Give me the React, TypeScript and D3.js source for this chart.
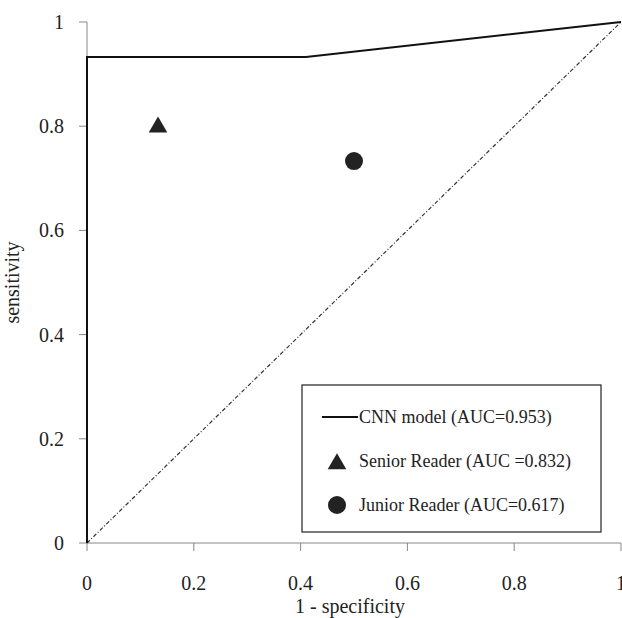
import React from 'react';
import {scaleLinear, line, symbol, symbolTriangle} from 'd3';

const rocX = [0, 0, 0.41, 1];
const rocY = [0, 0.933, 0.933, 1];
const seniorPt = {x: 0.133, y: 0.8};
const juniorPt = {x: 0.5, y: 0.733};
const xTicks = [0, 0.2, 0.4, 0.6, 0.8, 1];
const yTicks = [0, 0.2, 0.4, 0.6, 0.8, 1];
const legendLabels = ['CNN model (AUC=0.953)', 'Senior Reader (AUC =0.832)', 'Junior Reader (AUC=0.617)'];

const W = 622, H = 618;
const margin = {left: 87, right: 1, top: 22, bottom: 75};
const font = '"Liberation Serif", "Times New Roman", serif';

export default function App() {
  const xScale = scaleLinear().domain([0, 1]).range([margin.left, W - margin.right]);
  const yScale = scaleLinear().domain([0, 1]).range([H - margin.bottom, margin.top]);

  const roc = line<number>().x((d, i) => xScale(rocX[i])).y((d) => yScale(d));
  const diag = line<number>().x((d) => xScale(d)).y((d) => yScale(d));
  const tri = symbol().type(symbolTriangle).size(150)();

  const lx = 302, ly = 385, lw = 299, lh = 147;

  return (
    <svg width={W} height={H} style={{position: 'absolute', left: 0, top: 0, background: '#fff'}}>
      {/* axes */}
      <line x1={xScale(0)} x2={xScale(0)} y1={yScale(0)} y2={yScale(1)} stroke="#888" strokeWidth={1} />
      <line x1={xScale(0)} x2={xScale(1)} y1={yScale(0)} y2={yScale(0)} stroke="#888" strokeWidth={1} />
      {yTicks.map((t) => (
        <g key={'y' + t}>
          <line x1={xScale(0) - 8} x2={xScale(0)} y1={yScale(t)} y2={yScale(t)} stroke="#888" />
          <text x={xScale(0) - 23} y={yScale(t)} dy="0.35em" textAnchor="end" fontFamily={font} fontSize={20} fill="#222">{t}</text>
        </g>
      ))}
      {xTicks.map((t) => (
        <g key={'x' + t}>
          <line x1={xScale(t)} x2={xScale(t)} y1={yScale(0)} y2={yScale(0) + 8} stroke="#888" />
          <text x={xScale(t)} y={yScale(0) + 47} textAnchor="middle" fontFamily={font} fontSize={20} fill="#222">{t}</text>
        </g>
      ))}
      <text transform={`translate(19,${(yScale(0) + yScale(1)) / 2}) rotate(-90)`} textAnchor="middle" fontFamily={font} fontSize={20} fill="#222">sensitivity</text>
      <text x={(xScale(0) + xScale(1)) / 2 - 4} y={613} textAnchor="middle" fontFamily={font} fontSize={20} fill="#222">1 - specificity</text>

      {/* chance line */}
      <path d={diag([0, 1]) || ''} fill="none" stroke="#333" strokeWidth={1.2} strokeDasharray="4,2,1,2" />
      {/* ROC */}
      <path d={roc(rocY) || ''} fill="none" stroke="#111" strokeWidth={2} />

      <path d={tri} transform={`translate(${xScale(seniorPt.x)},${yScale(seniorPt.y) + 1})`} fill="#222" />
      <circle cx={xScale(juniorPt.x)} cy={yScale(juniorPt.y)} r={9} fill="#222" />

      {/* legend */}
      <rect x={lx} y={ly} width={lw} height={lh} fill="#fff" stroke="#222" strokeWidth={1.2} />
      <line x1={lx + 20} x2={lx + 56} y1={ly + 32} y2={ly + 32} stroke="#111" strokeWidth={2} />
      <path d={tri} transform={`translate(${lx + 35},${ly + 79})`} fill="#222" />
      <circle cx={lx + 35} cy={ly + 120} r={9} fill="#222" />
      {legendLabels.map((s, i) => (
        <text key={s} x={lx + 57} y={ly + 32 + i * 44} dy="0.35em" fontFamily={font} fontSize={18} fill="#222">{s}</text>
      ))}
    </svg>
  );
}
